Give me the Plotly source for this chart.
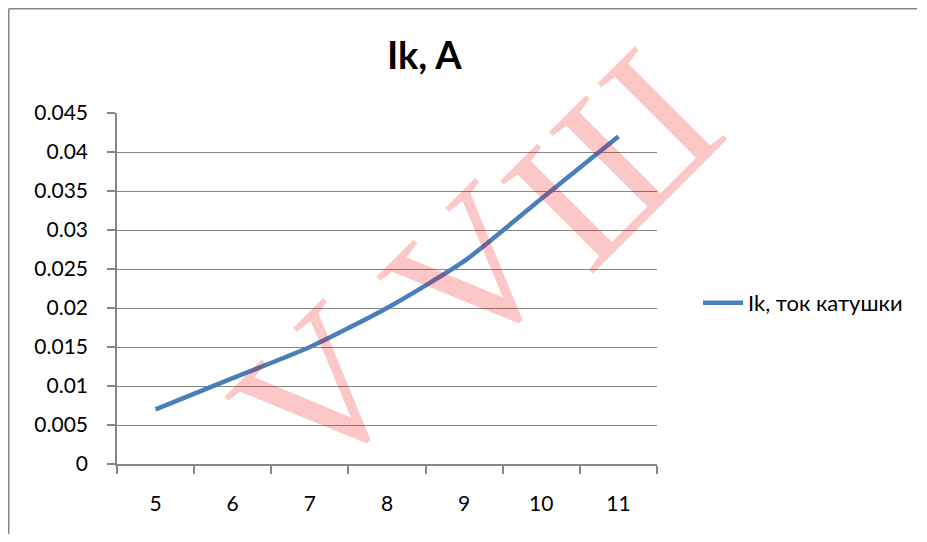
import plotly.graph_objects as go

# ---- data ----
categories = ["5", "6", "7", "8", "9", "10", "11"]
ik_values = [0.007, 0.011, 0.015, 0.020, 0.026, 0.034, 0.042]
series_name = "Ik, ток катушки"
chart_title = "Ik, A"
y_tick_values = [0, 0.005, 0.01, 0.015, 0.02, 0.025, 0.03, 0.035, 0.04, 0.045]
y_tick_labels = ["0", "0.005", "0.01", "0.015", "0.02", "0.025", "0.03", "0.035", "0.04", "0.045"]
watermark_letters = ["V", "V", "Ш"]

# page is shown with the browser's 8px body margin; keep the figure inside the
# window (no scrollbars) and place everything relative to that offset
OFF = 8
W, H = 927 - 2 * OFF, 542 - 2 * OFF
ML = 117 - OFF
MT = 113 - OFF
MR = W - (657 - OFF)
MB = H - (464 - OFF)
PW, PH = W - ML - MR, H - MT - MB

def px_x(p):
    return (p - OFF - ML) / PW

def px_y(p):
    return (H - MB - (p - OFF)) / PH

GRAY = "#878787"
FONT = "Lato"

fig = go.Figure()
fig.add_trace(go.Scatter(
    x=categories, y=ik_values, mode="lines", name=series_name,
    line=dict(color="#4a7ebb", width=4.5, shape="spline", smoothing=0.6),
))

fig.update_layout(
    width=W, height=H,
    margin=dict(l=ML, r=MR, t=MT, b=MB, autoexpand=False),
    paper_bgcolor="white", plot_bgcolor="white",
    font=dict(family=FONT, size=21, color="#000000"),
    showlegend=True,
    legend=dict(x=px_x(698), y=px_y(303), xanchor="left", yanchor="middle",
                font=dict(family=FONT, size=22, color="#000000"),
                bgcolor="rgba(0,0,0,0)", itemwidth=40),
    xaxis=dict(
        type="category", range=[-0.5, 6.5], tickson="boundaries",
        showgrid=False, showline=True, linecolor=GRAY, linewidth=1.5,
        ticks="outside", ticklen=8, tickcolor=GRAY, tickwidth=1.5,
        ticklabelstandoff=20, tickfont=dict(family=FONT, size=21),
        zeroline=False, fixedrange=True,
    ),
    yaxis=dict(
        range=[0, 0.045], tickvals=y_tick_values, ticktext=y_tick_labels,
        showgrid=True, gridcolor=GRAY, gridwidth=1.3,
        showline=True, linecolor=GRAY, linewidth=1.5,
        ticks="outside", ticklen=8, tickcolor=GRAY, tickwidth=1.5,
        ticklabelstandoff=15, tickfont=dict(family=FONT, size=21),
        zeroline=False, fixedrange=True,
    ),
)

# chart area frame: only top and left edges are visible
fig.add_shape(type="line", xref="paper", yref="paper",
              x0=px_x(OFF + 0.75), y0=px_y(OFF + 0.75), x1=px_x(OFF + W - 2), y1=px_y(OFF + 0.75),
              line=dict(color=GRAY, width=1.5), layer="below")
fig.add_shape(type="line", xref="paper", yref="paper",
              x0=px_x(OFF + 0.75), y0=px_y(OFF + 0.75), x1=px_x(OFF + 0.75), y1=px_y(OFF + H),
              line=dict(color=GRAY, width=1.5), layer="below")

# title
fig.add_annotation(text="<b>" + chart_title + "</b>", xref="paper", yref="paper",
                   x=px_x(424), y=px_y(54), xanchor="center", yanchor="middle",
                   showarrow=False, font=dict(family=FONT, size=38, color="#000000"))

# watermark letters (kept fully inside the picture)
wm_pos = [(318, 392), (470, 272), (612, 158)]
for letter, (wx, wy) in zip(watermark_letters, wm_pos):
    fig.add_annotation(text=letter, xref="paper", yref="paper",
                       x=px_x(wx), y=px_y(wy), xanchor="center", yanchor="middle",
                       textangle=-45, showarrow=False,
                       font=dict(family="Liberation Serif", size=200,
                                 color="rgba(240,0,0,0.22)"))

fig.write_html("out.html")
